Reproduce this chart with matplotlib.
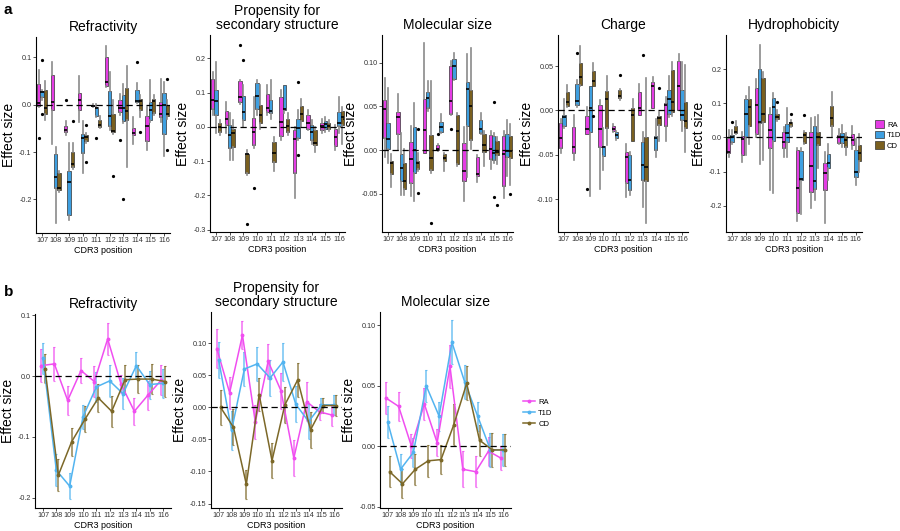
import matplotlib
matplotlib.use("Agg")
import matplotlib.pyplot as plt
from matplotlib.patches import Patch
from matplotlib.lines import Line2D
import numpy as np

plt.rcParams['font.family'] = ['Liberation Sans', 'DejaVu Sans']
plt.rcParams['axes.unicode_minus'] = False

positions = ['107', '108', '109', '110', '111', '112', '113', '114', '115', '116']
groups = ['RA', 'T1D', 'CD']
box_colors = ['#E43CE4', '#3E9FE0', '#7A6020']
line_colors = ['#F04EF0', '#52B4F0', '#7C6828']

# top row: per position (whisker low, q1, median, q3, whisker high)
refr_RA = [(-0.005, -0.002, 0.004, 0.043, 0.073), (-0.084, -0.011, 0.006, 0.062, 0.090),
           (-0.063, -0.058, -0.054, -0.044, -0.035), (-0.037, -0.011, 0.009, 0.025, 0.060),
           (-0.004, -0.003, -0.002, 0.0, 0.001), (0.037, 0.039, 0.048, 0.100, 0.125),
           (-0.022, -0.015, -0.007, 0.009, 0.023), (-0.084, -0.065, -0.060, -0.049, -0.026),
           (-0.095, -0.077, -0.044, -0.023, -0.005), (-0.037, -0.026, -0.019, 0.006, 0.055)]
refr_T1D = [(0.010, 0.016, 0.026, 0.029, 0.030), (-0.250, -0.175, -0.153, -0.104, -0.090),
            (-0.244, -0.234, -0.163, -0.140, -0.081), (-0.144, -0.103, -0.070, -0.061, -0.035),
            (-0.025, -0.023, -0.007, -0.005, 0.002), (-0.054, -0.046, -0.023, 0.029, 0.069),
            (-0.039, -0.034, -0.008, 0.020, 0.044), (0.003, 0.005, 0.007, 0.030, 0.046),
            (-0.037, -0.033, -0.012, 0.006, 0.053), (-0.109, -0.061, 0.000, 0.025, 0.048)]
refr_CD = [(-0.033, -0.019, -0.007, 0.030, 0.050), (-0.185, -0.180, -0.177, -0.144, -0.140),
           (-0.135, -0.132, -0.125, -0.100, -0.081), (-0.080, -0.077, -0.068, -0.063, -0.060),
           (-0.050, -0.047, -0.042, -0.032, -0.023), (-0.061, -0.058, -0.056, -0.019, 0.009),
           (-0.132, -0.033, -0.014, 0.036, 0.081), (-0.026, -0.012, 0.008, 0.012, 0.020),
           (-0.022, -0.018, 0.008, 0.011, 0.020), (-0.030, -0.023, -0.019, -0.001, 0.010)]
refr_out = [(0, 0, -0.07), (0, 1, 0.095), (0, 1, -0.019), (2, 0, 0.009), (2, 2, -0.035),
            (3, 2, -0.043), (3, 2, -0.122), (4, 1, -0.07), (5, 2, -0.15), (6, 0, -0.075),
            (6, 1, -0.2), (7, 1, 0.09), (7, 2, -0.057), (9, 2, 0.055), (9, 2, -0.095)]

prop_RA = [(0.034, 0.052, 0.078, 0.139, 0.161), (-0.019, 0.005, 0.023, 0.047, 0.071),
           (0.068, 0.073, 0.088, 0.133, 0.136), (-0.063, -0.052, -0.015, 0.027, 0.088),
           (0.034, 0.044, 0.055, 0.095, 0.122), (-0.039, -0.027, 0.013, 0.088, 0.107),
           (-0.207, -0.136, -0.036, -0.010, 0.0), (-0.010, -0.005, 0.012, 0.034, 0.049),
           (-0.019, -0.010, 0.002, 0.010, 0.024), (-0.068, -0.056, -0.029, -0.005, 0.005)]
prop_T1D = [(-0.019, 0.034, 0.075, 0.107, 0.190), (-0.097, -0.063, -0.024, 0.005, 0.039),
            (0.0, 0.021, 0.042, 0.091, 0.122), (0.034, 0.052, 0.090, 0.127, 0.136),
            (0.024, 0.041, 0.046, 0.078, 0.136), (0.039, 0.049, 0.051, 0.121, 0.122),
            (-0.039, -0.032, -0.003, 0.024, 0.049), (-0.049, -0.039, -0.015, 0.005, 0.019),
            (-0.015, -0.005, 0.007, 0.017, 0.029), (-0.019, 0.003, 0.010, 0.044, 0.088)]
prop_CD = [(-0.024, -0.015, 0.0, 0.012, 0.021), (-0.097, -0.058, -0.019, -0.005, 0.019),
           (-0.141, -0.134, -0.080, -0.078, -0.068), (-0.005, 0.010, 0.034, 0.063, 0.122),
           (-0.129, -0.102, -0.075, -0.044, -0.029), (-0.024, -0.015, 0.002, 0.023, 0.039),
           (0.0, 0.017, 0.036, 0.060, 0.080), (-0.073, -0.054, -0.047, -0.010, 0.0),
           (-0.012, -0.005, 0.003, 0.010, 0.020), (-0.051, 0.005, 0.029, 0.046, 0.058)]
prop_out = [(2, 0, 0.24), (2, 1, 0.195), (3, 0, -0.18), (2, 2, -0.283), (6, 1, 0.13), (6, 1, -0.083)]

mol_RA = [(-0.008, 0.014, 0.047, 0.057, 0.083), (0.0, 0.018, 0.038, 0.044, 0.064),
          (-0.053, -0.038, -0.010, 0.009, 0.028), (-0.003, -0.003, 0.023, 0.059, 0.123),
          (-0.001, 0.0, 0.0015, 0.006, 0.007), (0.040, 0.041, 0.056, 0.097, 0.102),
          (-0.058, -0.036, -0.024, 0.008, 0.026), (-0.037, -0.030, -0.027, -0.008, -0.006),
          (-0.022, -0.010, 0.001, 0.017, 0.022), (-0.055, -0.041, -0.005, 0.016, 0.022)]
mol_T1D = [(-0.015, 0.001, 0.013, 0.031, 0.071), (-0.052, -0.036, -0.021, -0.004, 0.020),
           (-0.058, -0.026, 0.0, 0.026, 0.054), (0.045, 0.048, 0.060, 0.067, 0.079),
           (0.020, 0.021, 0.026, 0.032, 0.041), (0.080, 0.082, 0.096, 0.105, 0.111),
           (-0.031, 0.028, 0.070, 0.078, 0.110), (0.018, 0.020, 0.024, 0.034, 0.043),
           (-0.015, -0.011, -0.003, 0.016, 0.020), (-0.030, -0.008, -0.001, 0.018, 0.035)]
mol_CD = [(-0.042, -0.027, -0.015, -0.013, -0.005), (-0.051, -0.045, -0.035, -0.015, 0.001),
          (-0.024, -0.022, -0.015, -0.012, -0.003), (-0.026, -0.023, -0.009, 0.017, 0.079),
          (-0.024, -0.013, -0.009, -0.005, -0.003), (-0.018, -0.016, 0.022, 0.040, 0.043),
          (0.001, 0.011, 0.050, 0.069, 0.117), (-0.018, -0.002, 0.006, 0.019, 0.022),
          (-0.016, -0.006, -0.002, 0.010, 0.015), (-0.040, -0.009, -0.001, 0.016, 0.030)]
mol_out = [(2, 2, -0.049), (2, 2, 0.024), (3, 2, -0.084), (4, 0, 0.018), (5, 0, 0.024),
           (8, 1, 0.055), (8, 1, -0.054), (8, 2, -0.063), (9, 2, -0.05)]

chg_RA = [(-0.048, -0.042, -0.031, -0.014, -0.010), (-0.056, -0.048, -0.041, -0.019, -0.005),
          (-0.026, -0.026, -0.021, -0.006, 0.004), (-0.088, -0.041, -0.021, 0.006, 0.012),
          (-0.024, -0.023, -0.021, -0.018, -0.015), (-0.098, -0.082, -0.053, -0.047, -0.038),
          (-0.005, -0.005, 0.003, 0.021, 0.030), (0.003, 0.003, 0.027, 0.032, 0.038),
          (-0.034, -0.018, 0.006, 0.008, 0.015), (0.001, 0.001, 0.027, 0.056, 0.064)]
chg_T1D = [(-0.020, -0.018, -0.0075, -0.005, 0.013), (0.004, 0.006, 0.011, 0.030, 0.034),
           (-0.096, -0.024, 0.003, 0.027, 0.027), (-0.067, -0.051, -0.041, -0.040, -0.020),
           (-0.033, -0.031, -0.028, -0.024, -0.023), (-0.095, -0.090, -0.078, -0.050, -0.047),
           (-0.109, -0.078, -0.061, -0.036, -0.024), (-0.053, -0.045, -0.031, -0.029, -0.010),
           (-0.007, -0.004, 0.013, 0.023, 0.039), (-0.023, -0.011, -0.005, 0.023, 0.055)]
chg_CD = [(0.004, 0.005, 0.009, 0.021, 0.029), (0.028, 0.029, 0.038, 0.053, 0.073),
          (0.027, 0.028, 0.033, 0.044, 0.054), (-0.039, -0.020, 0.013, 0.022, 0.039),
          (0.012, 0.014, 0.016, 0.023, 0.024), (-0.034, -0.034, -0.005, 0.003, 0.013),
          (-0.127, -0.080, -0.064, -0.030, 0.037), (-0.034, -0.016, -0.008, -0.006, -0.002),
          (-0.006, -0.002, 0.009, 0.046, 0.055), (-0.047, -0.020, -0.012, 0.009, 0.051)]
chg_out = [(1, 1, 0.065), (2, 0, -0.088), (2, 2, -0.006), (4, 2, 0.04), (6, 1, 0.063), (7, 2, 0.025)]

hyd_RA = [(-0.057, -0.047, -0.042, -0.003, 0.022), (-0.071, -0.052, -0.006, 0.004, 0.017),
          (0.0, 0.010, 0.095, 0.144, 0.170), (-0.155, -0.032, 0.022, 0.068, 0.085),
          (-0.057, -0.032, -0.013, 0.017, 0.030), (-0.246, -0.220, -0.147, -0.037, -0.030),
          (-0.208, -0.160, -0.084, 0.015, 0.056), (-0.250, -0.153, -0.103, -0.074, -0.042),
          (-0.018, -0.016, 0.002, 0.007, 0.026), (-0.033, -0.023, -0.008, 0.009, 0.033)]
hyd_T1D = [(-0.018, -0.013, 0.0, 0.008, 0.022), (-0.052, 0.0, 0.070, 0.112, 0.120),
           (-0.078, 0.041, 0.046, 0.200, 0.271), (-0.162, -0.010, 0.090, 0.116, 0.129),
           (-0.057, -0.012, 0.014, 0.039, 0.085), (-0.223, -0.125, -0.122, -0.039, -0.030),
           (-0.184, -0.152, -0.128, 0.033, 0.060), (-0.125, -0.091, -0.074, -0.049, -0.018),
           (-0.027, -0.016, 0.002, 0.012, 0.036), (-0.140, -0.115, -0.102, -0.037, -0.005)]
hyd_CD = [(0.010, 0.012, 0.015, 0.033, 0.048), (-0.018, 0.033, 0.088, 0.112, 0.147),
          (-0.067, 0.044, 0.068, 0.175, 0.193), (0.048, 0.053, 0.061, 0.070, 0.080),
          (0.030, 0.034, 0.041, 0.046, 0.050), (-0.020, -0.016, 0.007, 0.015, 0.020),
          (-0.091, -0.023, 0.002, 0.017, 0.066), (0.0, 0.034, 0.056, 0.092, 0.134),
          (-0.052, -0.027, -0.008, 0.004, 0.012), (-0.100, -0.069, -0.045, -0.021, 0.010)]
hyd_out = [(0, 1, 0.045), (3, 2, 0.104), (4, 2, 0.07), (5, 2, 0.065)]

# bottom row: mean effect size and standard error
b_refr_RA = [0.017, 0.020, -0.040, 0.009, -0.009, 0.061, -0.013, -0.058, -0.032, -0.007]
b_refr_RA_se = [0.027, 0.028, 0.024, 0.021, 0.025, 0.027, 0.015, 0.022, 0.024, 0.025]
b_refr_T1D = [0.029, -0.155, -0.181, -0.067, -0.018, -0.008, -0.029, 0.017, -0.014, -0.012]
b_refr_T1D_se = [0.025, 0.026, 0.022, 0.020, 0.024, 0.026, 0.026, 0.022, 0.023, 0.024]
b_refr_CD = [0.012, -0.163, -0.108, -0.071, -0.036, -0.058, -0.006, -0.005, -0.005, -0.009]
b_refr_CD_se = [0.024, 0.026, 0.023, 0.021, 0.023, 0.025, 0.024, 0.023, 0.024, 0.025]

b_prop_RA = [0.092, 0.023, 0.113, -0.023, 0.072, 0.026, -0.079, 0.009, -0.007, -0.012]
b_prop_RA_se = [0.030, 0.025, 0.022, 0.027, 0.027, 0.028, 0.028, 0.030, 0.012, 0.017]
b_prop_T1D = [0.074, -0.036, 0.060, 0.068, 0.046, 0.071, 0.005, -0.022, 0.004, 0.004]
b_prop_T1D_se = [0.028, 0.030, 0.026, 0.027, 0.028, 0.030, 0.028, 0.028, 0.011, 0.016]
b_prop_CD = [0.0, -0.031, -0.120, 0.020, -0.083, 0.004, 0.043, -0.035, 0.003, 0.003]
b_prop_CD_se = [0.028, 0.028, 0.023, 0.026, 0.027, 0.028, 0.026, 0.028, 0.012, 0.017]

b_mol_RA = [0.040, 0.033, 0.0, 0.035, 0.003, 0.066, -0.019, -0.021, -0.004, -0.010]
b_mol_RA_se = [0.013, 0.012, 0.010, 0.013, 0.011, 0.018, 0.015, 0.013, 0.012, 0.010]
b_mol_T1D = [0.020, -0.019, -0.005, 0.050, 0.025, 0.086, 0.053, 0.025, -0.003, -0.003]
b_mol_T1D_se = [0.013, 0.013, 0.012, 0.013, 0.012, 0.018, 0.014, 0.012, 0.014, 0.013]
b_mol_CD = [-0.021, -0.031, -0.019, -0.012, -0.011, 0.018, 0.052, 0.005, -0.003, -0.003]
b_mol_CD_se = [0.013, 0.012, 0.013, 0.013, 0.012, 0.017, 0.014, 0.013, 0.014, 0.013]

W, H = 900, 531
fig = plt.figure(figsize=(9, 5.31), dpi=100)


def px_axes(l, r, t, b):
    return fig.add_axes([l / W, (H - b) / H, (r - l) / W, (b - t) / H])


def style(ax, title, ylim, ticks, labels, xlim):
    ax.spines['top'].set_visible(False)
    ax.spines['right'].set_visible(False)
    ax.spines['left'].set_linewidth(0.8)
    ax.spines['bottom'].set_linewidth(0.8)
    ax.set_xlim(*xlim)
    ax.set_ylim(*ylim)
    ax.set_xticks(range(10))
    ax.set_xticklabels(positions)
    ax.set_yticks(ticks)
    ax.set_yticklabels(labels)
    ax.tick_params(labelsize=5.2, length=2, width=0.6, pad=1.2, colors='#333333')
    ax.set_xlabel('CDR3 position', fontsize=6.5, labelpad=0.8)
    ax.set_ylabel('Effect size', fontsize=10, labelpad=2)
    ax.set_title(title, fontsize=10, pad=4, linespacing=1.0)
    ax.axhline(0, color='black', ls=(0, (5, 3)), lw=0.9, zorder=4)


top_panels = [
    ('Refractivity', [refr_RA, refr_T1D, refr_CD], refr_out, (-0.271, 0.143),
     [-0.2, -0.1, 0.0, 0.1], ['-0.2', '-0.1', '0.0', '0.1'], (36, 170, 37, 233)),
    ('Propensity for\nsecondary structure', [prop_RA, prop_T1D, prop_CD], prop_out, (-0.307, 0.268),
     [-0.3, -0.2, -0.1, 0.0, 0.1, 0.2], ['-0.3', '-0.2', '-0.1', '0.0', '0.1', '0.2'], (210, 345, 35, 232)),
    ('Molecular size', [mol_RA, mol_T1D, mol_CD], mol_out, (-0.094, 0.132),
     [-0.05, 0.0, 0.05, 0.10], ['-0.05', '0.00', '0.05', '0.10'], (382, 513, 35, 232)),
    ('Charge', [chg_RA, chg_T1D, chg_CD], chg_out, (-0.137, 0.085),
     [-0.10, -0.05, 0.0, 0.05], ['-0.10', '-0.05', '0.00', '0.05'], (558, 688, 35, 232)),
    ('Hydrophobicity', [hyd_RA, hyd_T1D, hyd_CD], hyd_out, (-0.277, 0.30),
     [-0.2, -0.1, 0.0, 0.1, 0.2], ['-0.2', '-0.1', '0.0', '0.1', '0.2'], (726, 862, 35, 232)),
]

dodge = [-0.25, 0.0, 0.25]
for title, series, outs, ylim, ticks, labels, box in top_panels:
    ax = px_axes(*box)
    for g, data in enumerate(series):
        stats = []
        for i, (lo, q1, med, q3, hi) in enumerate(data):
            fl = [v for (p, gg, v) in outs if p == i and gg == g]
            stats.append(dict(whislo=lo, q1=q1, med=med, q3=q3, whishi=hi, fliers=fl))
        ax.bxp(stats, positions=np.arange(10) + dodge[g], widths=0.25, patch_artist=True,
               showcaps=False,
               boxprops=dict(facecolor=box_colors[g], edgecolor='#333333', linewidth=0.5),
               whiskerprops=dict(color='#8a8a8a', linewidth=1.2),
               medianprops=dict(color='black', linewidth=1.2),
               flierprops=dict(marker='o', markersize=1.3, markerfacecolor='black',
                               markeredgecolor='black'))
    style(ax, title, ylim, ticks, labels, (-0.45, 9.45))

bottom_panels = [
    ('Refractivity', [(b_refr_RA, b_refr_RA_se), (b_refr_T1D, b_refr_T1D_se), (b_refr_CD, b_refr_CD_se)],
     (-0.217, 0.102), [-0.2, -0.1, 0.0, 0.1], ['-0.2', '-0.1', '0.0', '0.1'], (35, 171, 314, 508)),
    ('Propensity for\nsecondary structure',
     [(b_prop_RA, b_prop_RA_se), (b_prop_T1D, b_prop_T1D_se), (b_prop_CD, b_prop_CD_se)],
     (-0.157, 0.149), [-0.15, -0.10, -0.05, 0.0, 0.05, 0.10],
     ['-0.15', '-0.10', '-0.05', '0.00', '0.05', '0.10'], (211, 342, 312, 508)),
    ('Molecular size', [(b_mol_RA, b_mol_RA_se), (b_mol_T1D, b_mol_T1D_se), (b_mol_CD, b_mol_CD_se)],
     (-0.051, 0.111), [-0.05, 0.0, 0.05, 0.10], ['-0.05', '0.00', '0.05', '0.10'], (380, 511, 312, 508)),
]

ldodge = [-0.15, 0.0, 0.15]
for title, series, ylim, ticks, labels, box in bottom_panels:
    ax = px_axes(*box)
    for g, (m, se) in enumerate(series):
        ax.errorbar(np.arange(10) + ldodge[g], m, yerr=se, color=line_colors[g], lw=1.1,
                    marker='o', ms=1.8, elinewidth=1.2, capsize=1.0, capthick=0.8,
                    ecolor=matplotlib.colors.to_rgba(line_colors[g], 0.75))
    style(ax, title, ylim, ticks, labels, (-0.6, 9.6))

# legends
top_handles = [Patch(facecolor=c, edgecolor='#333333', linewidth=0.5) for c in box_colors]
fig.legend(top_handles, groups, loc='center left', bbox_to_anchor=(868 / W, 1 - 135 / H),
           frameon=False, fontsize=5.5, handlelength=1.2, handleheight=1.1, handletextpad=0.4,
           labelspacing=0.3)
bot_handles = [Line2D([], [], color=c, marker='o', ms=1.8, lw=1.1) for c in line_colors]
fig.legend(bot_handles, groups, loc='center left', bbox_to_anchor=(516 / W, 1 - 413 / H),
           frameon=False, fontsize=5.5, handlelength=1.6, handletextpad=0.4, labelspacing=0.5)

fig.text(4 / W, 1 - 10 / H, 'a', fontsize=11, fontweight='bold', va='center')
fig.text(4 / W, 1 - 292 / H, 'b', fontsize=11, fontweight='bold', va='center')

fig.savefig('out.png', dpi=100, facecolor='white')
